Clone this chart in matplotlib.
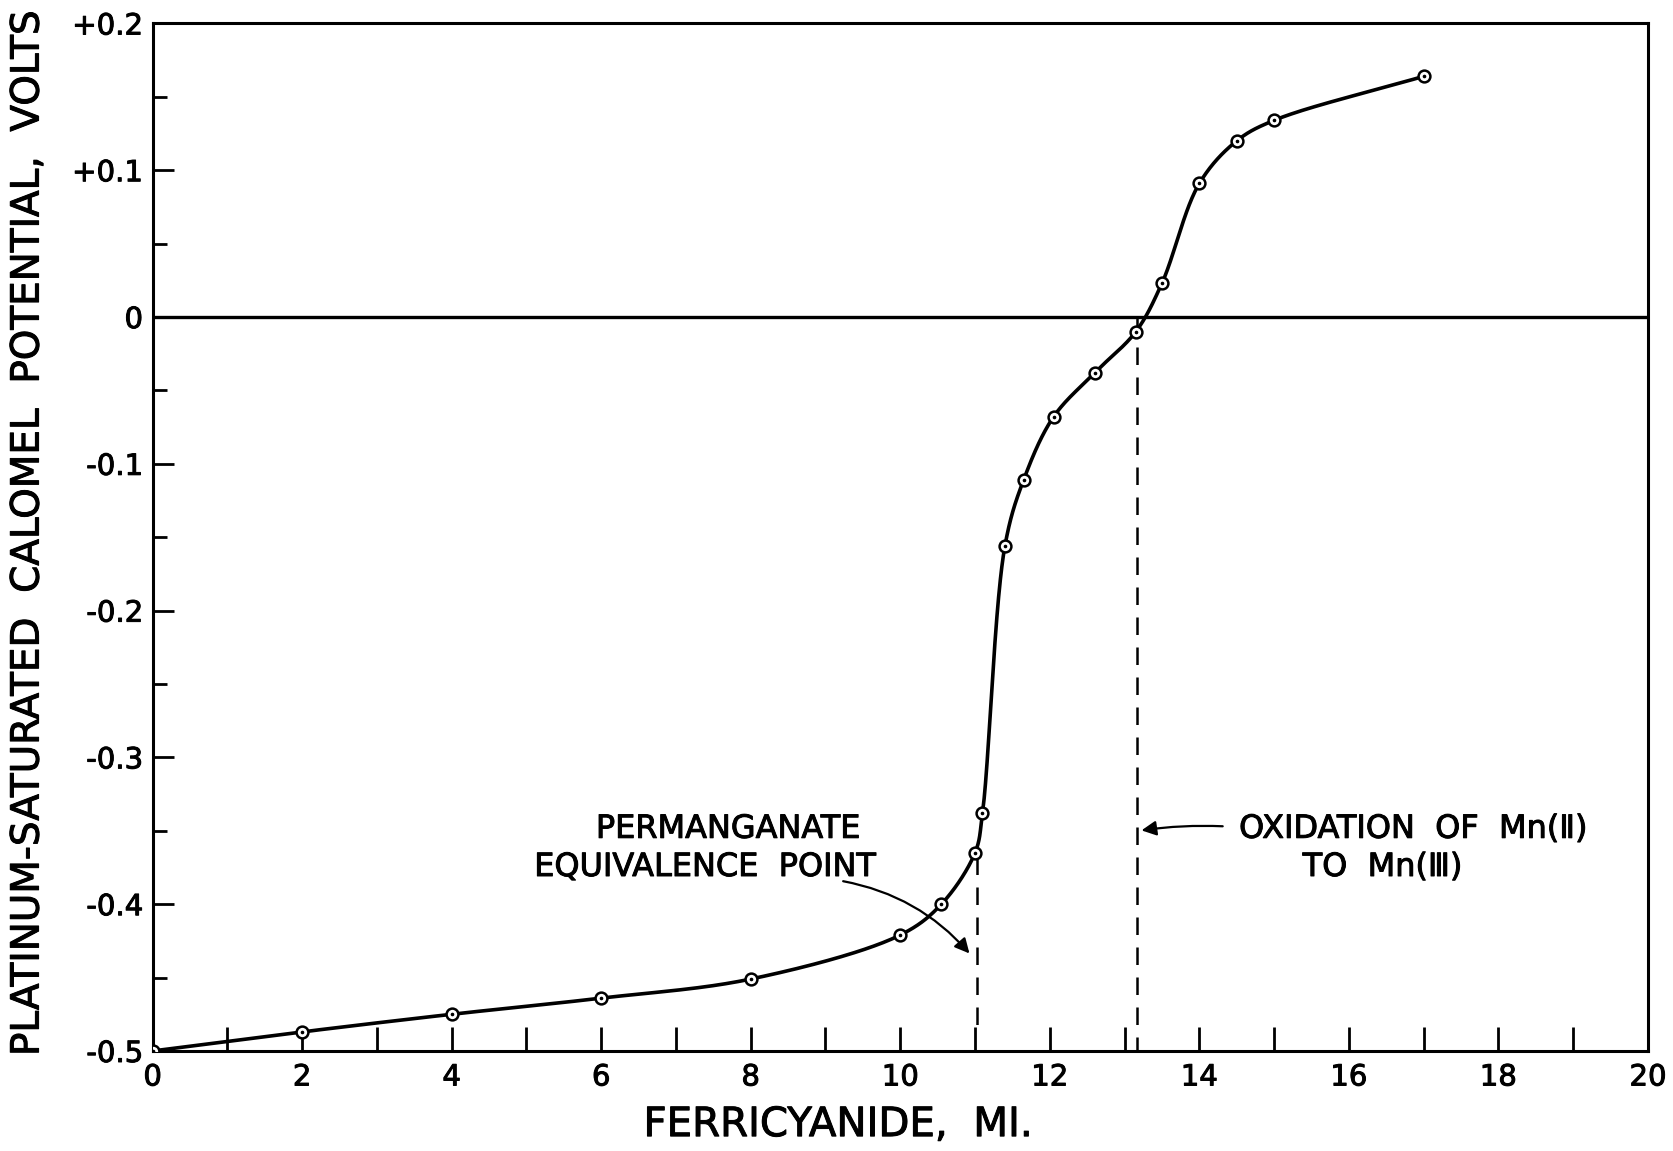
import numpy as np
import matplotlib
matplotlib.use("Agg")
import matplotlib.pyplot as plt
import matplotlib.patheffects as pe

# ---- data ----
ferricyanide_ml = [0, 2, 4, 6, 8, 10, 10.55, 11.0, 11.1, 11.4, 11.65, 12.05,
                   12.6, 13.15, 13.5, 14.0, 14.5, 15.0, 17.0]
potential_v = [-0.500, -0.487, -0.475, -0.464, -0.451, -0.421, -0.400, -0.365,
               -0.338, -0.156, -0.111, -0.068, -0.038, -0.010, 0.023, 0.091,
               0.120, 0.134, 0.164]
xticks = [0, 2, 4, 6, 8, 10, 12, 14, 16, 18, 20]
yticks = [-0.5, -0.4, -0.3, -0.2, -0.1, 0.0, 0.1, 0.2]
ytick_labels = ["-0.5", "-0.4", "-0.3", "-0.2", "-0.1", "0", "+0.1", "+0.2"]
perm_equiv_x = 11.03
mn_oxid_x = 13.17

plt.rcParams['font.family'] = ['DejaVu Sans']
heavy = [pe.withStroke(linewidth=0.7, foreground='black')]

fig = plt.figure(figsize=(16.73, 11.51), dpi=100)
ax = fig.add_axes([0.0912, 0.0869, 0.985 - 0.0912, 0.9796 - 0.0869])

xmin, xmax, ymin, ymax = 0, 20, -0.5, 0.2
ax.set_xlim(xmin, xmax)
ax.set_ylim(ymin, ymax)


def catmull_rom(x, y, sx, sy, n=60, alpha=0.5):
    P = np.column_stack([np.asarray(x) * sx, np.asarray(y) * sy])
    P = np.vstack([2 * P[0] - P[1], P, 2 * P[-1] - P[-2]])
    out = []
    for i in range(1, len(P) - 2):
        p0, p1, p2, p3 = P[i - 1], P[i], P[i + 1], P[i + 2]
        t0 = 0.0
        t1 = t0 + np.linalg.norm(p1 - p0) ** alpha
        t2 = t1 + np.linalg.norm(p2 - p1) ** alpha
        t3 = t2 + np.linalg.norm(p3 - p2) ** alpha
        t = np.linspace(t1, t2, n)[:, None]
        A1 = (t1 - t) / (t1 - t0) * p0 + (t - t0) / (t1 - t0) * p1
        A2 = (t2 - t) / (t2 - t1) * p1 + (t - t1) / (t2 - t1) * p2
        A3 = (t3 - t) / (t3 - t2) * p2 + (t - t2) / (t3 - t2) * p3
        B1 = (t2 - t) / (t2 - t0) * A1 + (t - t0) / (t2 - t0) * A2
        B2 = (t3 - t) / (t3 - t1) * A2 + (t - t1) / (t3 - t1) * A3
        C = (t2 - t) / (t2 - t1) * B1 + (t - t1) / (t2 - t1) * B2
        out.append(C)
    C = np.vstack(out)
    return C[:, 0] / sx, C[:, 1] / sy


# scale to (approximate) pixel space so the spline is isotropic
sx = 1495 / (xmax - xmin)
sy = 1028 / (ymax - ymin)
cx, cy = catmull_rom(ferricyanide_ml, potential_v, sx, sy)

ax.axhline(0, color='black', lw=2.4, zorder=2)
ax.plot(cx, cy, color='black', lw=2.6, zorder=3, solid_capstyle='round')
ax.plot(ferricyanide_ml, potential_v, linestyle='none', marker='o', ms=8.5,
        mfc='white', mec='black', mew=1.8, zorder=4)
ax.plot(ferricyanide_ml, potential_v, linestyle='none', marker='o', ms=1.6,
        mfc='black', mec='black', zorder=5)

# dashed verticals
ax.plot([perm_equiv_x, perm_equiv_x], [-0.368, -0.487], color='black',
        lw=1.8, dashes=(7, 5), zorder=2)
ax.plot([mn_oxid_x, mn_oxid_x], [0.0, -0.5], color='black',
        lw=1.8, dashes=(7, 5), zorder=2)

# annotations
ann_fs = 23
ax.text(7.70, -0.349, "PERMANGANATE", ha='center', va='center',
        fontsize=ann_fs, path_effects=heavy)
ax.text(7.39, -0.375, "EQUIVALENCE  POINT", ha='center', va='center',
        fontsize=ann_fs, path_effects=heavy)
ax.annotate("", xy=(10.95, -0.435), xytext=(9.2, -0.384),
            arrowprops=dict(arrowstyle='-|>', color='black', lw=1.6,
                            mutation_scale=22,
                            connectionstyle='arc3,rad=-0.18'))
ax.text(16.86, -0.349, "OXIDATION  OF  Mn(Ⅱ)", ha='center', va='center',
        fontsize=ann_fs, path_effects=heavy)
ax.text(16.45, -0.375, "TO  Mn(Ⅲ)", ha='center', va='center',
        fontsize=ann_fs, path_effects=heavy)
ax.annotate("", xy=(mn_oxid_x + 0.02, -0.350), xytext=(14.35, -0.347),
            arrowprops=dict(arrowstyle='-|>', color='black', lw=1.6,
                            mutation_scale=22,
                            connectionstyle='arc3,rad=0.05'))

# ticks
ax.set_xticks(xticks)
ax.set_xticks(np.arange(0, 21, 1), minor=True)
ax.set_yticks(yticks)
ax.set_yticklabels(ytick_labels)
ax.set_yticks(np.arange(-0.5, 0.2001, 0.05), minor=True)
ax.tick_params(axis='both', which='both', direction='in', labelsize=21,
               width=2.0, color='black')
ax.tick_params(axis='x', which='major', length=17, pad=9)
ax.tick_params(axis='x', which='minor', length=17)
ax.tick_params(axis='y', which='major', length=15, pad=7)
ax.tick_params(axis='y', which='minor', length=10)
ax.tick_params(top=False, right=False)
for lab in ax.get_xticklabels() + ax.get_yticklabels():
    lab.set_path_effects(heavy)

for s in ax.spines.values():
    s.set_linewidth(2.2)

fig.text(0.501, 0.0225, "FERRICYANIDE,  MI.", ha='center', va='center',
         fontsize=29, path_effects=heavy)
fig.text(0.0165, 0.537, "PLATINUM-SATURATED  CALOMEL  POTENTIAL,  VOLTS",
         ha='center', va='center', rotation=90, fontsize=28, path_effects=heavy)

fig.savefig("out.png", dpi=100, facecolor='white')
